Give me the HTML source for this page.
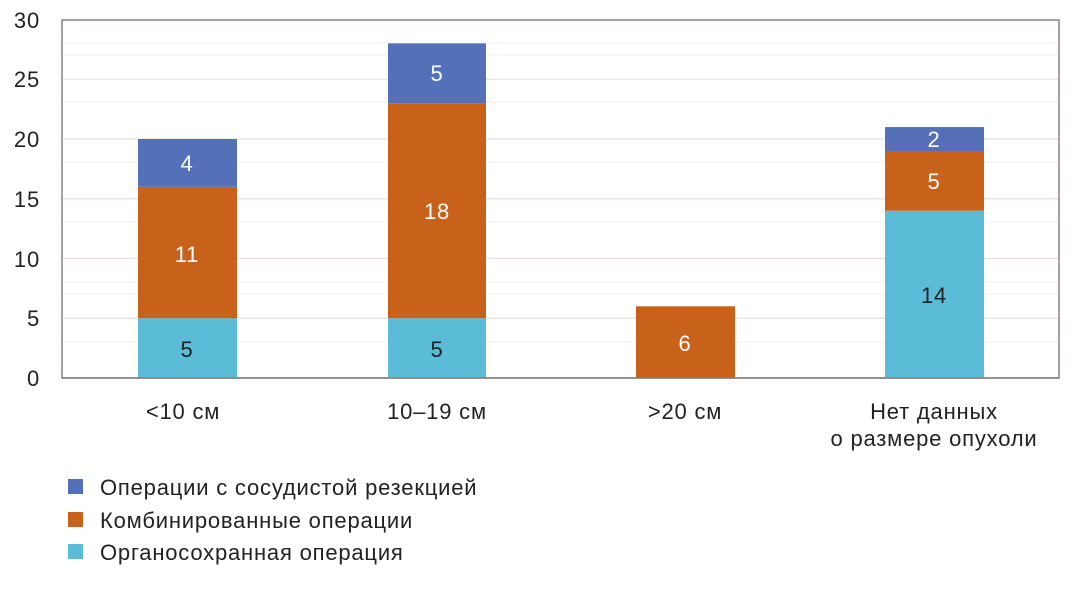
<!DOCTYPE html>
<html><head><meta charset="utf-8"><style>
body{margin:0;background:#fff;}
svg{display:block;font-family:"Liberation Sans",Arial,sans-serif;}
text{letter-spacing:0.8px;}
</style></head><body>
<svg width="1069" height="599" viewBox="0 0 1069 599">
<g stroke="#f1ecec" stroke-width="1">
<line x1="62" x2="1059" y1="342" y2="342"/><line x1="62" x2="1059" y1="294" y2="294"/>
<line x1="62" x2="1059" y1="282" y2="282"/><line x1="62" x2="1059" y1="222" y2="222"/>
<line x1="62" x2="1059" y1="162" y2="162"/><line x1="62" x2="1059" y1="102" y2="102"/>
<line x1="62" x2="1059" y1="55" y2="55"/><line x1="62" x2="1059" y1="43" y2="43"/>
</g>
<g stroke="#eadfe0" stroke-width="1.2">
<line x1="62" x2="1059" y1="318.25" y2="318.25"/>
<line x1="62" x2="1059" y1="258.5" y2="258.5"/>
<line x1="62" x2="1059" y1="198.75" y2="198.75"/>
<line x1="62" x2="1059" y1="139" y2="139"/>
<line x1="62" x2="1059" y1="79.25" y2="79.25"/>
</g>
<rect x="62" y="20" width="997" height="358" fill="none" stroke="#8a8080" stroke-width="1.5"/>
<g font-size="22" fill="#222" text-anchor="end">
<text x="40" y="386">0</text>
<text x="40" y="326">5</text>
<text x="40" y="267">10</text>
<text x="40" y="207">15</text>
<text x="40" y="147">20</text>
<text x="40" y="87">25</text>
<text x="40" y="28">30</text>
</g>
<rect x="138" y="318.25" width="99" height="59.75" fill="#5bbcd8"/>
<rect x="138" y="186.8" width="99" height="131.45" fill="#c8621a"/>
<rect x="138" y="139" width="99" height="47.8" fill="#5470b8"/>
<rect x="388" y="318.25" width="98" height="59.75" fill="#5bbcd8"/>
<rect x="388" y="103.15" width="98" height="215.1" fill="#c8621a"/>
<rect x="388" y="43.4" width="98" height="59.75" fill="#5470b8"/>
<rect x="636" y="306.3" width="99" height="71.7" fill="#c8621a"/>
<rect x="885" y="210.7" width="99" height="167.3" fill="#5bbcd8"/>
<rect x="885" y="151" width="99" height="59.7" fill="#c8621a"/>
<rect x="885" y="127.05" width="99" height="23.95" fill="#5470b8"/>
<line x1="62" x2="1059" y1="378" y2="378" stroke="#8a8080" stroke-width="1.5"/>
<g font-size="22" text-anchor="middle">
<text x="187" y="357" fill="#222">5</text>
<text x="187" y="262" fill="#fff">11</text>
<text x="187" y="171" fill="#fff">4</text>
<text x="437" y="357" fill="#222">5</text>
<text x="437" y="219" fill="#fff">18</text>
<text x="437" y="81" fill="#fff">5</text>
<text x="685" y="351" fill="#fff">6</text>
<text x="934" y="303" fill="#222">14</text>
<text x="934" y="189" fill="#fff">5</text>
<text x="934" y="147" fill="#fff">2</text>
</g>
<g font-size="22" fill="#222" text-anchor="middle">
<text x="183" y="419">&lt;10 см</text>
<text x="437" y="419">10–19 см</text>
<text x="685" y="419">&gt;20 см</text>
<text x="934" y="419">Нет данных</text>
<text x="934" y="446">о размере опухоли</text>
</g>
<rect x="68" y="479" width="15" height="15" fill="#5470b8"/>
<rect x="68" y="512" width="15" height="15" fill="#c8621a"/>
<rect x="68" y="544" width="15" height="15" fill="#5bbcd8"/>
<g font-size="22" fill="#222">
<text x="100" y="495">Операции с сосудистой резекцией</text>
<text x="100" y="528">Комбинированные операции</text>
<text x="100" y="560">Органосохранная операция</text>
</g>
</svg>
</body></html>
